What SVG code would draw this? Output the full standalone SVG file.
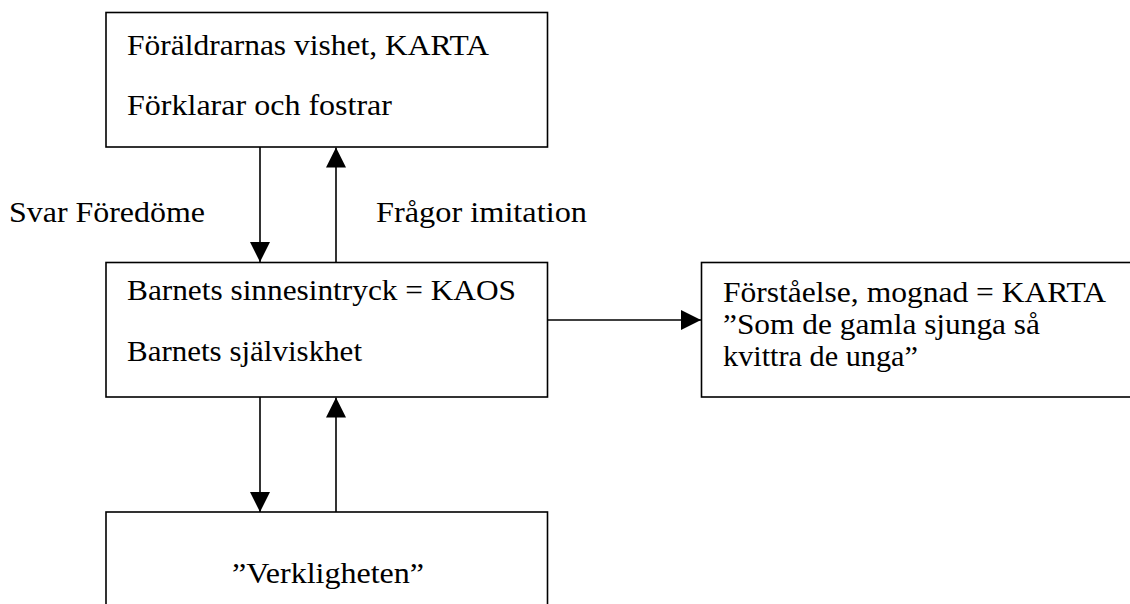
<svg xmlns="http://www.w3.org/2000/svg" width="1130" height="604" viewBox="0 0 1130 604">
<style>
.box{fill:#fff;stroke:#000;stroke-width:1.6}
.t{font-family:"Liberation Serif","Times New Roman",serif;font-size:30px;fill:#000}
.c{stroke:#000;stroke-width:1.6;fill:none;marker-end:url(#ah)}
</style>
<defs>
<marker id="ah" markerUnits="userSpaceOnUse" markerWidth="20" markerHeight="20" refX="20" refY="10" orient="auto">
<path d="M0,0 L20,10 L0,20 z" fill="#000"/>
</marker>
</defs>
<rect width="1130" height="604" fill="#fff"/>
<g id="parents">
<rect class="box" x="106" y="12.5" width="441.5" height="134.5"/>
<text class="t" x="127" y="55" textLength="362" lengthAdjust="spacingAndGlyphs">Föräldrarnas vishet, KARTA</text>
<text class="t" x="127" y="115" textLength="265" lengthAdjust="spacingAndGlyphs">Förklarar och fostrar</text>
</g>
<g id="child">
<rect class="box" x="106" y="262.5" width="441.5" height="134.5"/>
<text class="t" x="127" y="300" textLength="389" lengthAdjust="spacingAndGlyphs">Barnets sinnesintryck = KAOS</text>
<text class="t" x="127" y="361" textLength="235" lengthAdjust="spacingAndGlyphs">Barnets själviskhet</text>
</g>
<g id="understanding">
<rect class="box" x="701.5" y="262.5" width="440" height="134.5"/>
<text class="t" x="723" y="302" textLength="383" lengthAdjust="spacingAndGlyphs">Förståelse, mognad = KARTA</text>
<text class="t" x="723" y="334" textLength="317" lengthAdjust="spacingAndGlyphs">”Som de gamla sjunga så</text>
<text class="t" x="723" y="366" textLength="195" lengthAdjust="spacingAndGlyphs">kvittra de unga”</text>
</g>
<g id="reality">
<rect class="box" x="106" y="512" width="441.5" height="110"/>
<text class="t" x="232" y="583" textLength="192" lengthAdjust="spacingAndGlyphs">”Verkligheten”</text>
</g>
<g id="labels">
<text class="t" x="9" y="222" textLength="196" lengthAdjust="spacingAndGlyphs">Svar Föredöme</text>
<text class="t" x="376" y="222" textLength="211" lengthAdjust="spacingAndGlyphs">Frågor imitation</text>
</g>
<g id="connectors">
<line class="c" x1="260" y1="147" x2="260" y2="262"/>
<line class="c" x1="336" y1="262" x2="336" y2="147.5"/>
<line class="c" x1="547.5" y1="320" x2="701" y2="320"/>
<line class="c" x1="260" y1="397" x2="260" y2="512"/>
<line class="c" x1="336" y1="512" x2="336" y2="397.5"/>
</g>
</svg>
